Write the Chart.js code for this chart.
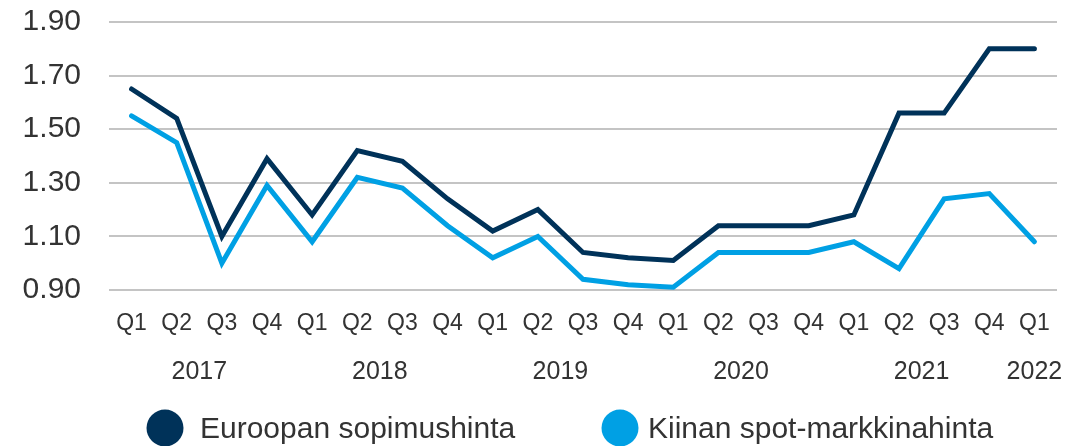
<!DOCTYPE html>
<html>
<head>
<meta charset="utf-8">
<script src="https://cdn.jsdelivr.net/npm/chart.js@4/dist/chart.umd.min.js"></script>
<style>
  html, body { margin: 0; padding: 0; background: #ffffff; }
  #wrap { width: 1089px; height: 446px; position: relative; }
</style>
</head>
<body>
<div id="wrap"><canvas id="c" width="1089" height="446"></canvas></div>
<script>
const quarters = ['Q1','Q2','Q3','Q4','Q1','Q2','Q3','Q4','Q1','Q2','Q3','Q4','Q1','Q2','Q3','Q4','Q1','Q2','Q3','Q4','Q1'];
const years = ['2017','2018','2019','2020','2021','2022'];
const quartersPerYear = [4, 4, 4, 4, 4, 1];
const europe = [1.65,1.54,1.10,1.39,1.18,1.42,1.38,1.24,1.12,1.20,1.04,1.02,1.01,1.14,1.14,1.14,1.18,1.56,1.56,1.80,1.80];
const china  = [1.55,1.45,1.00,1.29,1.08,1.32,1.28,1.14,1.02,1.10,0.94,0.92,0.91,1.04,1.04,1.04,1.08,0.98,1.24,1.26,1.08];
const seriesNames = ['Euroopan sopimushinta', 'Kiinan spot-markkinahinta'];
const yTicks = [0.90, 1.10, 1.30, 1.50, 1.70, 1.90];

// centre index of each year group
const yearCenters = [];
{ let start = 0; quartersPerYear.forEach(n => { yearCenters.push(start + (n - 1) / 2); start += n; }); }

const TEXT = '#333333';
const FONT = '"Liberation Sans", Arial, sans-serif';

const legendPlugin = {
  id: 'customLegend',
  afterDraw(chart, args, opts) {
    const ctx = chart.ctx;
    ctx.save();
    ctx.font = opts.fontSize + 'px ' + FONT;
    ctx.textBaseline = 'middle';
    ctx.textAlign = 'left';
    chart.data.datasets.forEach((ds, i) => {
      const cx = opts.centers[i];
      ctx.beginPath();
      ctx.fillStyle = ds.borderColor;
      ctx.arc(cx, opts.y, opts.radius, 0, Math.PI * 2);
      ctx.fill();
      ctx.fillStyle = TEXT;
      ctx.fillText(ds.label, cx + opts.textGap[i], opts.y + 2);
    });
    ctx.restore();
  }
};

new Chart(document.getElementById('c'), {
  type: 'line',
  data: {
    labels: quarters,
    datasets: [
      { label: seriesNames[0], data: europe, borderColor: '#003259', backgroundColor: '#003259',
        borderWidth: 5, pointRadius: 0, tension: 0, borderCapStyle: 'round', xAxisID: 'x', yAxisID: 'y' },
      { label: seriesNames[1], data: china, borderColor: '#00a0e4', backgroundColor: '#00a0e4',
        borderWidth: 5, pointRadius: 0, tension: 0, borderCapStyle: 'round', xAxisID: 'x', yAxisID: 'y' }
    ]
  },
  options: {
    responsive: false,
    animation: false,
    devicePixelRatio: 1,
    layout: { padding: { top: 0, right: 32, bottom: 60, left: 0 } },
    plugins: {
      legend: { display: false },
      tooltip: { enabled: false },
      customLegend: { centers: [165, 620], textGap: [35, 28], y: 428, radius: 18.5, fontSize: 30 }
    },
    scales: {
      x: {
        type: 'category',
        position: 'bottom',
        weight: 0,
        offset: true,
        grid: { display: false },
        border: { display: false },
        ticks: { color: TEXT, font: { family: FONT, size: 23 }, padding: 12, autoSkip: false, maxRotation: 0 },
        afterFit(s) { s.height = 46; }
      },
      x2: {
        type: 'linear',
        position: 'bottom',
        weight: 1,
        min: -0.5,
        max: quarters.length - 0.5,
        grid: { display: false },
        border: { display: false },
        afterBuildTicks(s) { s.ticks = yearCenters.map(v => ({ value: v })); },
        ticks: { color: TEXT, font: { family: FONT, size: 25 }, padding: 13, autoSkip: false, maxRotation: 0,
                 callback: (v, i) => years[i] },
        afterFit(s) { s.height = 50; }
      },
      y: {
        min: yTicks[0],
        max: yTicks[yTicks.length - 1],
        afterBuildTicks(s) { s.ticks = yTicks.map(v => ({ value: v })); },
        grid: { color: '#c4c4c4', lineWidth: 2, drawTicks: false },
        border: { display: false },
        ticks: { color: TEXT, font: { family: FONT, size: 30 }, padding: 28, callback: v => Number(v).toFixed(2) },
        afterFit(s) { s.width = 109; s.paddingTop = 22; s.paddingBottom = 0; }
      }
    }
  },
  plugins: [legendPlugin]
});
</script>
</body>
</html>
